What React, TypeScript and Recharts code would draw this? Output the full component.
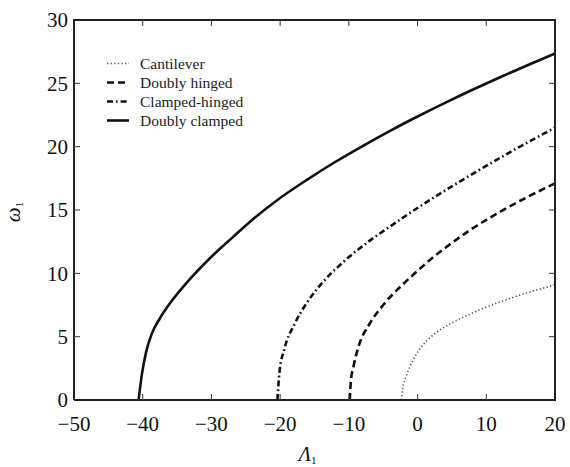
import React from 'react';
import { LineChart, Line, XAxis, YAxis, Legend, Label } from 'recharts';

const xTicks = [-50, -40, -30, -20, -10, 0, 10, 20];
const yTicks = [0, 5, 10, 15, 20, 25, 30];

const cantileverLambda = [-2.35, -2.2, -1.6, -0.6, 0.8, 2.8, 5.2, 8.1, 11.5, 15.9, 20];
const cantileverOmega = [0, 0.8, 1.95, 3.2, 4.35, 5.35, 6.15, 6.9, 7.65, 8.45, 9.1];

const doublyHingedLambda = [-9.87, -9.7, -9.3, -8.6, -7, -5, -2, 0, 2, 4, 7.6, 11.5, 15.9, 20];
const doublyHingedOmega = [0, 1.5, 2.7, 4.2, 6.0, 7.5, 9.2, 10.2, 11.15, 12.0, 13.4, 14.7, 16.0, 17.1];

const clampedHingedLambda = [-20.4, -20.1, -19.4, -17.9, -16.2, -13.8, -10.8, -7.4, -3.6, 0.8, 5.7, 11, 15.9, 20];
const clampedHingedOmega = [0, 2.2, 4.0, 6.0, 7.6, 9.3, 10.9, 12.4, 13.85, 15.45, 17.1, 18.8, 20.3, 21.5];

const doublyClampedLambda = [-40.6, -40.1, -39.5, -38.7, -37.5, -35.6, -33.2, -30.3, -27, -24, -20, -16, -12, -8, -4, 0, 4, 8, 12, 16, 20];
const doublyClampedOmega = [0, 2.1, 3.8, 5.2, 6.45, 7.95, 9.5, 11.15, 12.8, 14.25, 15.95, 17.42, 18.79, 20.05, 21.25, 22.38, 23.46, 24.49, 25.48, 26.43, 27.35];

const seriesNames = ['Cantilever', 'Doubly hinged', 'Clamped-hinged', 'Doubly clamped'];

const xDomain: [number, number] = [-50, 20];
const yDomain: [number, number] = [0, 30];

const toPoints = (ls: number[], ws: number[]) => ls.map((l, i) => ({ x: l, y: ws[i] }));

const cantileverData = toPoints(cantileverLambda, cantileverOmega);
const doublyHingedData = toPoints(doublyHingedLambda, doublyHingedOmega);
const clampedHingedData = toPoints(clampedHingedLambda, clampedHingedOmega);
const doublyClampedData = toPoints(doublyClampedLambda, doublyClampedOmega);

const FONT = '"Liberation Serif", "Times New Roman", serif';

const W = 570;
const H = 467;
const M = { top: 20, right: 15, bottom: 0, left: 0 };
const Y_AXIS_W = 74;
const X_AXIS_H = 67;
const PLOT = {
  left: M.left + Y_AXIS_W,
  top: M.top,
  right: W - M.right,
  bottom: H - M.bottom - X_AXIS_H,
};
const TICK_LEN = 5;

const px = (v: number) => PLOT.left + ((v - xDomain[0]) / (xDomain[1] - xDomain[0])) * (PLOT.right - PLOT.left);
const py = (v: number) => PLOT.bottom - ((v - yDomain[0]) / (yDomain[1] - yDomain[0])) * (PLOT.bottom - PLOT.top);

const lineStyles: Record<string, { stroke: string; width: number; dash?: string }> = {
  'Cantilever': { stroke: '#555', width: 1.6, dash: '1.3 2.3' },
  'Doubly hinged': { stroke: '#111', width: 2.6, dash: '7 4' },
  'Clamped-hinged': { stroke: '#111', width: 2.6, dash: '6 3 1.6 3' },
  'Doubly clamped': { stroke: '#111', width: 2.6 },
};

const fmt = (v: number) => String(v).replace('-', '\u2212');

// Legend content: the legend block plus the box frame and inward ticks
const renderLegend = () => {
  const innerX = xTicks.slice(1, -1);
  const innerY = yTicks.slice(1, -1);
  return (
    <div style={{ position: 'relative', width: W, height: H, pointerEvents: 'none' }}>
      <svg width={W} height={H} style={{ position: 'absolute', left: 0, top: 0 }}>
        <polyline
          points={`${PLOT.left},${PLOT.top} ${PLOT.right},${PLOT.top} ${PLOT.right},${PLOT.bottom}`}
          fill="none"
          stroke="#222"
          strokeWidth={2}
          strokeLinejoin="miter"
          strokeLinecap="square"
        />
        {innerX.map((t) => (
          <g key={`x${t}`}>
            <line x1={px(t)} y1={PLOT.top} x2={px(t)} y2={PLOT.top + TICK_LEN + 1} stroke="#444" strokeWidth={1.1} />
            <line x1={px(t)} y1={PLOT.bottom} x2={px(t)} y2={PLOT.bottom - TICK_LEN - 1} stroke="#444" strokeWidth={1.1} />
          </g>
        ))}
        {innerY.map((t) => (
          <g key={`y${t}`}>
            <line x1={PLOT.left} y1={py(t)} x2={PLOT.left + TICK_LEN + 1} y2={py(t)} stroke="#444" strokeWidth={1.1} />
            <line x1={PLOT.right} y1={py(t)} x2={PLOT.right - TICK_LEN - 1} y2={py(t)} stroke="#444" strokeWidth={1.1} />
          </g>
        ))}
      </svg>
      <div style={{ position: 'absolute', left: 107, top: 54, fontFamily: FONT, fontSize: 15.5, color: '#222' }}>
        {seriesNames.map((name) => {
          const s = lineStyles[name];
          return (
            <div key={name} style={{ display: 'flex', alignItems: 'center', height: 19 }}>
              <svg width={22} height={19} style={{ marginRight: 11 }}>
                <line x1={0} y1={9.5} x2={22} y2={9.5} stroke={s.stroke} strokeWidth={s.width} strokeDasharray={s.dash} />
              </svg>
              <span style={{ whiteSpace: 'nowrap' }}>{name}</span>
            </div>
          );
        })}
      </div>
    </div>
  );
};

const XTick = (props: any) => (
  <text x={props.x} y={props.y} dy="0.71em" textAnchor="middle" fontFamily={FONT} fontSize={21} fill="#111">
    {fmt(props.payload.value)}
  </text>
);

const YTick = (props: any) => (
  <text x={props.x} y={props.y} dy="0.355em" textAnchor="end" fontFamily={FONT} fontSize={21} fill="#111">
    {fmt(props.payload.value)}
  </text>
);

const XLabel = (props: any) => {
  const vb = props.viewBox || { x: 74, y: 400, width: 481, height: 67 };
  const cx = vb.x + vb.width / 2 - 7;
  const cy = vb.y + 61;
  return (
    <text x={cx} y={cy} textAnchor="middle" fontFamily={FONT} fontSize={21} fill="#111">
      <tspan fontStyle="italic">Λ</tspan>
      <tspan fontSize={11} dy={3}>1</tspan>
    </text>
  );
};

const YLabel = (props: any) => {
  const vb = props.viewBox || { x: 0, y: 20, width: 74, height: 380 };
  const cx = vb.x + 20;
  const cy = vb.y + vb.height / 2 + 2;
  return (
    <text x={cx} y={cy} textAnchor="middle" fontFamily={FONT} fontSize={21} fill="#111" transform={`rotate(-90, ${cx}, ${cy})`}>
      <tspan fontStyle="italic">ω</tspan>
      <tspan fontSize={11} dy={3}>1</tspan>
    </text>
  );
};

const axisLine = { stroke: '#222', strokeWidth: 2 };

export default function App() {
  return (
    <div style={{ position: 'absolute', left: 0, top: 0, width: W, height: H, background: '#fff', fontFamily: FONT }}>
      <LineChart width={W} height={H} margin={M}>
        <XAxis
          dataKey="x"
          type="number"
          domain={xDomain}
          ticks={xTicks}
          interval={0}
          height={X_AXIS_H}
          tickSize={0}
          tickMargin={16}
          axisLine={axisLine}
          tickLine={false}
          tick={XTick}
        >
          <Label content={XLabel} />
        </XAxis>
        <YAxis
          type="number"
          domain={yDomain}
          ticks={yTicks}
          interval={0}
          width={Y_AXIS_W}
          tickSize={0}
          tickMargin={6}
          axisLine={axisLine}
          tickLine={false}
          tick={YTick}
        >
          <Label content={YLabel} />
        </YAxis>
        <Legend
          layout="vertical"
          align="center"
          verticalAlign="middle"
          content={renderLegend}
          wrapperStyle={{ left: 0, top: 0, width: W, height: H, pointerEvents: 'none' }}
        />
        <Line data={cantileverData} name={seriesNames[0]} dataKey="y" type="monotone" stroke={lineStyles[seriesNames[0]].stroke} strokeWidth={lineStyles[seriesNames[0]].width} strokeDasharray={lineStyles[seriesNames[0]].dash} dot={false} activeDot={false} isAnimationActive={false} />
        <Line data={doublyHingedData} name={seriesNames[1]} dataKey="y" type="monotone" stroke={lineStyles[seriesNames[1]].stroke} strokeWidth={lineStyles[seriesNames[1]].width} strokeDasharray={lineStyles[seriesNames[1]].dash} dot={false} activeDot={false} isAnimationActive={false} />
        <Line data={clampedHingedData} name={seriesNames[2]} dataKey="y" type="monotone" stroke={lineStyles[seriesNames[2]].stroke} strokeWidth={lineStyles[seriesNames[2]].width} strokeDasharray={lineStyles[seriesNames[2]].dash} dot={false} activeDot={false} isAnimationActive={false} />
        <Line data={doublyClampedData} name={seriesNames[3]} dataKey="y" type="monotone" stroke={lineStyles[seriesNames[3]].stroke} strokeWidth={lineStyles[seriesNames[3]].width} dot={false} activeDot={false} isAnimationActive={false} />
      </LineChart>
    </div>
  );
}
